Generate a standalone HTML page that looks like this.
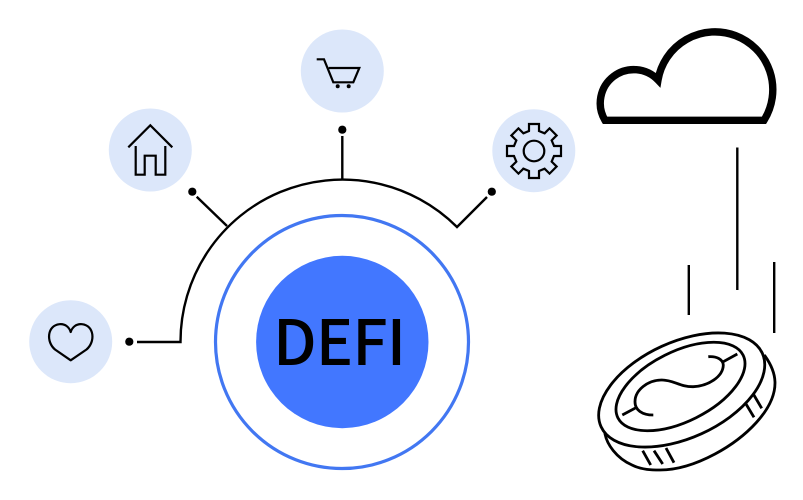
<!DOCTYPE html>
<html><head><meta charset="utf-8"><style>html,body{margin:0;padding:0;background:#fff;width:803px;height:500px;overflow:hidden}svg{display:block}</style></head>
<body>
<svg width="803" height="500" viewBox="0 0 803 500" xmlns="http://www.w3.org/2000/svg">
<rect width="803" height="500" fill="#fff"/>
<g fill="#DCE7FA">
<circle cx="70.7" cy="341.7" r="41.5"/>
<circle cx="150.3" cy="150" r="41.5"/>
<circle cx="342.3" cy="71" r="41.5"/>
<circle cx="533.8" cy="150.7" r="41.5"/>
</g>
<circle cx="342" cy="342" r="126.5" fill="none" stroke="#4277F2" stroke-width="3.2"/>
<circle cx="342.3" cy="342" r="86.2" fill="#4277FF"/>
<text x="273" y="365" font-family="'Noto Sans CJK SC','Liberation Sans',sans-serif" font-size="62.5" font-weight="500" textLength="133" lengthAdjust="spacing" fill="#000">DEFI</text>
<g fill="none" stroke="#000" stroke-width="2.4">
<path d="M137 342H180.5A162 162 0 0 1 457 227L487 197"/>
<path d="M196.7 196.7L227 226"/>
<path d="M342.3 136V180"/>
</g>
<g fill="#000">
<circle cx="129.3" cy="341.7" r="4.1"/>
<circle cx="192.3" cy="191.7" r="4.1"/>
<circle cx="342.3" cy="129.7" r="4.1"/>
<circle cx="491.8" cy="191.7" r="4.1"/>
</g>
<path d="M70.7 360.3L55 349.5C46 342 47 325.5 59.5 324.2C65.5 323.6 69.3 327.5 70.7 332C72.1 327.5 76 323.6 82 324.2C94.5 325.5 95.5 342 86.5 349.5Z" fill="none" stroke="#000" stroke-width="2.2" stroke-linejoin="round"/>
<g fill="none" stroke="#000" stroke-width="2.2">
<path d="M128.3 147.3L150.3 125.3L172.3 147.3"/>
<path d="M135.7 146V174.7H144.7V155.7H155.7V174.7H165.3V146"/>
<path d="M316.7 59.3H324L333.3 82.3H353.3L359.3 68H328.7"/>
</g>
<circle cx="337.7" cy="86.3" r="2"/><circle cx="348.7" cy="86.3" r="2"/>
<g transform="translate(534 151)" fill="none" stroke="#000" stroke-width="2.2" stroke-linejoin="miter" stroke-linecap="round">
<circle r="10.3"/>
<path d="M-5 -20V-27H5V-20L10.6 -17.7"/>
<path transform="rotate(45)" d="M-5 -20V-27H5V-20L10.6 -17.7"/>
<path transform="rotate(90)" d="M-5 -20V-27H5V-20L10.6 -17.7"/>
<path transform="rotate(135)" d="M-5 -20V-27H5V-20L10.6 -17.7"/>
<path transform="rotate(180)" d="M-5 -20V-27H5V-20L10.6 -17.7"/>
<path transform="rotate(225)" d="M-5 -20V-27H5V-20L10.6 -17.7"/>
<path transform="rotate(270)" d="M-5 -20V-27H5V-20L10.6 -17.7"/>
<path transform="rotate(315)" d="M-5 -20V-27H5V-20L10.6 -17.7"/>
</g>
<path d="M605 120.3A33.5 33.5 0 0 1 658 80A57.8 57.8 0 1 1 764 120.3Z" fill="#fff" stroke="#000" stroke-width="7.4" stroke-linejoin="miter"/>
<g stroke="#000" stroke-width="2.4" fill="none">
<path d="M737.3 147.5V290"/>
<path d="M688.8 265V315"/>
<path d="M774.2 262V333"/>
</g>
<g fill="#fff" stroke="#000" stroke-width="2.8">
<path d="M605 434C607 444 616 458 632 465C642 470 652 470 660 470C680 470 700 462 715 454C745 438 775 410 775 383C775 372 770 363 765 356Z" />
<ellipse cx="681.7" cy="390" rx="88.6" ry="48" transform="rotate(-24.5 681.7 390)"/>
<ellipse cx="680.5" cy="386.5" rx="70" ry="34.9" transform="rotate(-26.6 680.5 386.5)"/>
</g>
<g fill="none" stroke="#000" stroke-width="2.8">
<path d="M653.3 415C642 415 635 410 635 401.7C635 390 648 380 661.7 380C674 380 680 387 693.3 386.7C708 386 723 377 723.3 365C723 359 716 356 708.3 356.7"/>
<path d="M622.3 415L636.7 407.3M723.3 361.7L737.3 354"/>
<path d="M642.7 450.7L650.7 465M654 450.7L662.7 464M666 448L674 462.7M746 404L754 417.3M753.3 394L761.7 408.3"/>
</g>
</svg>
</body></html>
